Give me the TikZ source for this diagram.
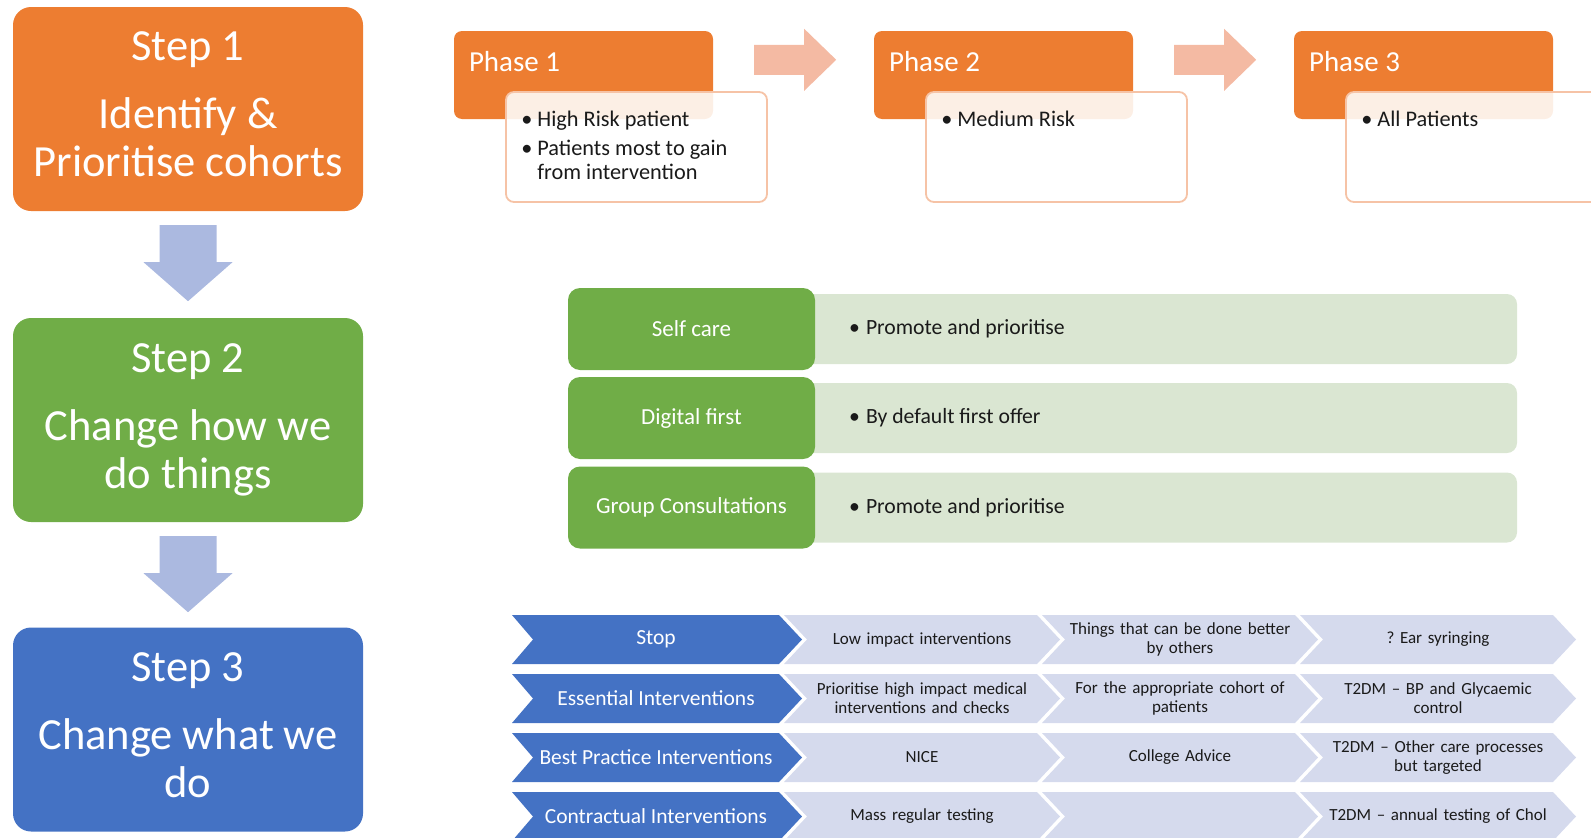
\documentclass[tikz,border=0pt]{standalone}
\usepackage{fontspec}
\setmainfont{Carlito}
\definecolor{cOrange}{HTML}{ED7D31}
\definecolor{cGreen}{HTML}{70AD47}
\definecolor{cBlue}{HTML}{4472C4}
\definecolor{cStepArrow}{HTML}{ABB9E0}
\definecolor{cPhaseArrow}{HTML}{F4BAA3}
\definecolor{cPhaseLine}{HTML}{F6C3A6}
\definecolor{cLightGreen}{HTML}{DAE6D2}
\definecolor{cLightBlue}{HTML}{D5DAED}
\definecolor{cText}{HTML}{1A1A1A}
\newcommand\mydepth{\rule[-9pt]{0pt}{9pt}}
\newcommand\mychev[5]{\fill[#5] (#1,#2) -- ++(#3-23,0) -- ++(23,24.5) -- ++(-23,24.5) -- ++(-#3+23,0) -- ++(#4,-24.5) -- cycle;}
\frenchspacing
\begin{document}
\begin{tikzpicture}[x=1pt,y=-1pt,
  stepbox/.style={rounded corners=18pt, minimum width=350pt, minimum height=204pt, inner sep=0pt, text=white, align=center, font=\fontsize{44.5}{48}\selectfont},
  steparrowc/.style={fill=cStepArrow},
  phasebox/.style={fill=cOrange, rounded corners=8pt, minimum width=259pt, minimum height=88pt, inner sep=0pt},
  phasetitle/.style={text=white, font=\fontsize{29}{33}\selectfont, inner sep=0pt},
  phasearrowc/.style={fill=cPhaseArrow},
  listbox/.style={draw=cPhaseLine, line width=1.8pt, fill=white, fill opacity=0.88, rounded corners=8pt, minimum width=261pt, minimum height=110pt, inner sep=0pt},
  listtxt/.style={text=cText, font=\fontsize{22.3}{24}\selectfont\frenchspacing, inner sep=0pt, align=left},
  gbar/.style={fill=cLightGreen, rounded corners=10pt, minimum width=732pt, minimum height=70pt, inner sep=0pt},
  gbox/.style={fill=cGreen, rounded corners=12pt, minimum width=247pt, minimum height=82pt, inner sep=0pt, text=white, font=\fontsize{23}{27}\selectfont},
  bultxt/.style={text=cText, font=\fontsize{21.7}{25}\selectfont, inner sep=0pt},
  btxt/.style={text=white, font=\fontsize{21.5}{25}\selectfont, inner sep=0pt},
  ctxt/.style={text=cText, font=\fontsize{17}{19}\selectfont\frenchspacing, align=center, text width=240pt, inner sep=0pt}
]
\useasboundingbox (0,0) rectangle (1591,838);

% ---- Steps ----
\node[stepbox, fill=cOrange] (s1) at (188,109) {Step 1\\[20pt]Identify \&\\Prioritise cohorts\mydepth};
\node[stepbox, fill=cGreen] (s2) at (188,420) {Step 2\\[20pt]Change how we\\do things};
\node[stepbox, fill=cBlue] (s3) at (188,729.5) {Step 3\\[20pt]Change what we\\do\mydepth};

\fill[steparrowc] ([shift={(-28.5,14)}]s1.south) -- ++(57,0) -- ++(0,37) -- ++(16,0) -- ++(-44.5,39) -- ++(-44.5,-39) -- ++(16,0) -- cycle;
\fill[steparrowc] ([shift={(-28.5,14)}]s2.south) -- ++(57,0) -- ++(0,37) -- ++(16,0) -- ++(-44.5,39) -- ++(-44.5,-39) -- ++(16,0) -- cycle;

% ---- Phases ----
\node[phasebox] (p1) at (583.5,75) {};
\node[phasebox] (p2) at (1003.5,75) {};
\node[phasebox] (p3) at (1423.5,75) {};
\node[phasetitle, anchor=west] (p1t) at ([shift={(15,-13)}]p1.west) {Phase 1};
\node[phasetitle, anchor=west] (p2t) at ([shift={(15,-13)}]p2.west) {Phase 2};
\node[phasetitle, anchor=west] (p3t) at ([shift={(15,-13)}]p3.west) {Phase 3};

\node[listbox] (l1) at ([shift={(53,72)}]p1.center) {};
\node[listbox] (l2) at ([shift={(53,72)}]p2.center) {};
\node[listbox] (l3) at ([shift={(53,72)}]p3.center) {};

\node[listtxt, anchor=north west] (l1t) at ([shift={(16,18)}]l1.north west)
  {\begin{tabular}{@{}l@{\hspace{5pt}}l@{}}\textbullet & High Risk patient\\[5pt]\textbullet & Patients most to gain\\ & from intervention\end{tabular}};
\node[listtxt, anchor=north west] (l2t) at ([shift={(16,18)}]l2.north west)
  {\begin{tabular}{@{}l@{\hspace{5pt}}l@{}}\textbullet & Medium Risk\end{tabular}};
\node[listtxt, anchor=north west] (l3t) at ([shift={(16,18)}]l3.north west)
  {\begin{tabular}{@{}l@{\hspace{5pt}}l@{}}\textbullet & All Patients\end{tabular}};

\fill[phasearrowc] ([shift={(41,14)}]p1.north east) -- ++(50,0) -- ++(0,-16) -- ++(32,31) -- ++(-32,31) -- ++(0,-16) -- ++(-50,0) -- cycle;
\fill[phasearrowc] ([shift={(41,14)}]p2.north east) -- ++(50,0) -- ++(0,-16) -- ++(32,31) -- ++(-32,31) -- ++(0,-16) -- ++(-50,0) -- cycle;

% ---- Green section ----
\node[gbar] (b1) at (1151,329) {};
\node[gbar] (b2) at (1151,418) {};
\node[gbar] (b3) at (1151,507.5) {};
\node[gbox] (g1) at (691.5,329) {Self care};
\node[gbox] (g2) at (691.5,418) {Digital first};
\node[gbox] (g3) at (691.5,507.5) {Group Consultations};
\node[bultxt, anchor=west] (b1t) at (849,329) {\textbullet\hspace{6pt}Promote and prioritise};
\node[bultxt, anchor=west] (b2t) at (849,418) {\textbullet\hspace{6pt}By default first offer};
\node[bultxt, anchor=west] (b3t) at (849,507.5) {\textbullet\hspace{6pt}Promote and prioritise};

% ---- Chevrons ----
\foreach \yy in {615,674,733,792} {
  \mychev{512}{\yy}{290}{21}{cBlue}
  \mychev{784}{\yy}{276}{23}{cLightBlue}
  \mychev{1042}{\yy}{276}{23}{cLightBlue}
  \mychev{1300}{\yy}{276}{23}{cLightBlue}
}
\node[btxt] (c10) at (656,639.5) {Stop};
\node[btxt] (c20) at (656,698.5) {Essential Interventions};
\node[btxt] (c30) at (656,757.5) {Best Practice Interventions};
\node[btxt] (c40) at (656,816.5) {Contractual Interventions};

\node[ctxt] (c11) at (922,639.5) {Low impact interventions};
\node[ctxt] (c12) at (1180,639.5) {Things that can be done better\\by others};
\node[ctxt] (c13) at (1438,639.5) {? Ear syringing};

\node[ctxt] (c21) at (922,698.5) {Prioritise high impact medical\\interventions and checks};
\node[ctxt] (c22) at (1180,698.5) {For the appropriate cohort of\\patients};
\node[ctxt] (c23) at (1438,698.5) {T2DM – BP and Glycaemic\\control};

\node[ctxt] (c31) at (922,757.5) {NICE};
\node[ctxt] (c32) at (1180,757.5) {College Advice};
\node[ctxt] (c33) at (1438,757.5) {T2DM – Other care processes\\but targeted};

\node[ctxt] (c41) at (922,816.5) {Mass regular testing};
\node[ctxt] (c43) at (1438,816.5) {T2DM – annual testing of Chol};
\end{tikzpicture}
\end{document}
